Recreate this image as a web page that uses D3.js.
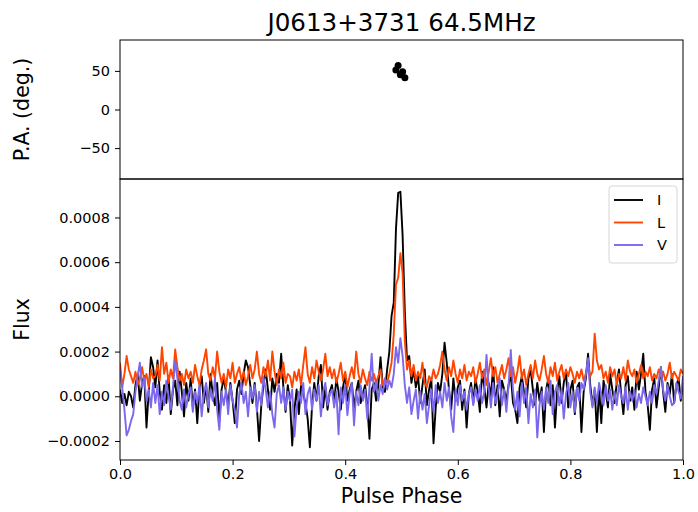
<!DOCTYPE html>
<html>
<head>
<meta charset="utf-8">
<script src="https://cdn.jsdelivr.net/npm/d3@7"></script>
<style>
  body { margin: 0; background: #fff; }
  svg { display: block; font-family: "DejaVu Sans", sans-serif; }
</style>
</head>
<body>
<svg id="chart" width="698" height="512"></svg>
<script>
// flux profiles in units of 1e-4, 256 phase bins
const fluxI = [
  0.3, -0.3, 0.1, -0.4, 0.2, 0.0, -0.5, 0.5, 1.0, -0.2, 0.6, 0.9, -1.4, 0.2, 1.75, 1.3,
  0.4, 1.6, 0.2, -0.6, 0.5, -0.3, 0.9, -0.8, 0.3, 0.7, -0.4, 1.1, 0.2, -0.9, 0.6, -0.2,
  0.8, -0.5, 0.3, -1.2, 0.4, 0.9, -0.3, 0.5, -0.7, 1.0, 0.1, -0.4, 0.6, -1.1, 0.3, 0.8,
  0.2, -0.4, 0.6, -0.2, -1.2, 0.3, 0.7, 0.1, 1.0, 1.6, 1.3, 0.5, -0.3, 0.6, -0.5, -2.0,
  -0.4, 0.5, 1.2, 0.3, -0.6, 0.8, 0.2, 1.0, 0.6, 1.9, 0.4, -0.7, 0.5, -0.2, -2.2, -0.6,
  0.3, -0.8, 0.5, 0.1, -0.3, -1.0, -2.28, -0.4, 0.6, -0.2, 0.9, 1.4, -0.5, 0.4, -0.6, 0.2,
  0.5, -0.3, 0.8, 0.2, -0.6, 0.4, 1.0, -0.2, 0.3, 0.6, -0.5, 0.2, 0.7, -0.3, 0.1, 0.5,
  -0.4, -1.9, 0.3, 0.6, -0.2, 0.5, 1.75, 0.4, 0.2, 1.2, 2.0, 3.6, 4.2, 7.5, 9.1, 9.15,
  7.2, 3.8, 1.6, 1.8, 0.6, 1.2, 0.4, 0.9, -0.3, 0.5, 1.2, -0.4, 0.3, 0.8, -2.1, -0.5,
  0.6, 0.2, 1.0, 2.4, 1.5, 0.3, -0.6, 0.8, -0.2, 0.4, 0.7, -0.6, 0.3, -1.4, 0.1, 0.6,
  -0.3, 0.8, 0.2, -0.7, 1.1, 0.4, -0.5, 0.6, 0.0, 1.3, -0.4, 0.5, -0.9, 0.7, 0.3, -0.2,
  0.5, 1.0, -0.3, -0.6, -1.2, 0.4, 0.9, 0.2, -0.5, 0.8, 1.2, 0.3, -0.4, 0.6, -0.2, 0.4,
  -1.6, 0.3, 0.8, -0.4, 0.5, -1.4, 0.2, 0.9, -0.3, 0.6, 1.1, -0.5, 0.3, 0.7, -0.8, 0.4,
  0.6, -1.6, 0.2, 0.8, 1.9, 0.5, -0.4, 0.3, -1.6, 0.4, -1.2, 0.7, 0.2, -0.5, 1.0, 0.3,
  -0.3, 0.6, 1.2, 0.1, -0.8, 0.5, 0.9, -0.2, 0.4, -0.6, 1.1, 0.3, 1.0, 1.9, 0.2, -0.4,
  -1.5, 0.3, 0.8, -0.5, 0.4, 1.3, 0.2, -0.7, 0.6, 0.1, 1.0, -0.3, 0.5, 0.8, -0.2, 0.6
];
const fluxL = [
  1.5, 0.4, 1.0, 1.8, 1.2, 0.9, 0.6, 1.1, 0.5, 0.8, 1.3, 0.7, 1.0, 0.4, 1.2, 0.8,
  0.9, 1.4, 0.7, 2.2, 1.0, 1.5, 0.6, 1.2, 0.8, 2.1, 1.3, 0.7, 1.0, 0.5, 1.2, 0.8,
  1.1, 0.6, 1.4, 0.9, 0.5, 1.2, 1.6, 2.1, 1.0, 0.7, 1.3, 0.8, 2.0, 1.1, 0.6, 1.0,
  0.4, 1.2, 0.8, 1.5, 0.6, 1.0, 1.3, 0.7, 1.1, 0.5, 0.9, 1.4, 0.8, 1.2, 2.0, 1.0,
  0.6, 1.3, 0.9, 1.6, 0.7, 2.0, 1.1, 0.5, 1.2, 0.8, 1.5, 0.6, 1.0, 0.9, 0.4, 1.1,
  0.7, 1.2, 0.5, 1.4, 2.2, 1.0, 0.6, 1.3, 0.8, 1.6, 1.1, 0.7, 1.2, 1.9, 0.9, 1.3,
  0.8, 1.2, 0.6, 1.0, 1.5, 0.7, 1.1, 0.4, 0.9, 1.3, 0.8, 2.0, 1.0, 0.6, 1.2, 0.8,
  0.5, 1.1, 0.7, 1.0, 0.6, 0.9, 1.2, 0.5, 0.8, 0.6, 1.0, 1.5, 2.8, 5.0, 5.3, 6.4,
  5.5, 2.5, 1.2, 1.6, 0.9, 1.4, 0.7, 1.1, 0.8, 1.5, 0.6, 0.4, 0.9, 0.7, 1.2, 0.8,
  1.0, 1.4, 2.0, 1.2, 0.7, 1.3, 0.9, 1.6, 1.0, 0.6, 1.2, 0.8, 1.4, 0.7, 1.1, 0.9,
  1.3, 0.6, 1.0, 1.5, 0.8, 1.2, 0.5, 1.1, 1.7, 0.9, 1.3, 0.6, 1.0, 1.4, 0.8, 1.2,
  1.7, 0.9, 1.3, 0.6, 1.1, 1.8, 0.8, 1.2, 0.5, 1.0, 1.4, 0.8, 1.6, 1.0, 0.7, 1.2,
  1.8, 1.0, 0.6, 1.3, 0.9, 1.5, 0.7, 1.1, 1.4, 0.8, 1.2, 0.9, 1.3, 1.0, 0.6, 1.1,
  0.8, 1.2, 0.7, 1.0, 1.4, 0.9, 1.1, 2.8, 1.6, 1.2, 1.4, 0.8, 1.1, 0.6, 1.3, 0.9,
  1.2, 0.5, 1.0, 0.8, 1.3, 0.7, 1.6, 1.1, 0.9, 1.2, 0.6, 1.0, 1.4, 0.8, 1.1, 0.9,
  1.3, 0.7, 1.0, 0.8, 1.2, 0.9, 1.1, 0.7, 1.0, 1.5, 0.8, 1.1, 0.9, 0.7, 1.2, 1.0
];
const fluxV = [
  1.2, 0.4, -0.6, -1.75, -1.5, -1.1, -0.8, 0.2, 0.9, 1.5, 0.4, 0.8, -0.2, 0.3, -0.5, 0.6,
  -0.3, 0.5, -0.8, 0.2, -0.4, 0.7, 0.0, -0.6, 0.4, 1.6, 0.8, -0.2, -0.6, 0.3, -0.5, 0.1,
  0.4, -0.7, 0.2, -0.3, 0.5, -0.9, 0.1, 0.6, -0.5, 0.3, -0.2, 0.8, -0.6, -1.5, 0.2, -0.4,
  0.3, -0.8, 0.5, -0.2, -0.6, -1.4, 0.1, 0.6, -0.3, 0.2, -0.9, 0.4, -0.1, 0.5, -0.7, 0.2,
  -0.4, 0.85, 0.3, -0.5, 0.2, -0.8, -1.4, 0.1, 0.5, -0.3, 0.4, -0.6, 0.2, -0.2, 0.3, -1.8,
  -0.5, 0.2, -0.3, 0.6, -0.8, 0.1, 0.4, -0.6, 0.3, -0.2, 0.5, -0.9, 0.2, 0.6, -0.4, 0.1,
  0.3, -0.5, 0.2, -1.7, 0.4, -0.3, 0.5, -0.85, 0.1, 0.6, -1.3, 0.2, -0.4, 0.5, -0.2, 0.3,
  -1.0, 0.4, 1.9, 0.2, 0.6, -0.2, 0.5, 0.1, 0.8, 0.3, 0.7, 0.4, 1.0, 2.2, 1.5, 2.6,
  1.8, 0.5, -0.3, 0.4, -0.8, -0.2, 0.3, -1.0, 0.2, -0.6, 0.1, -1.2, -0.4, 0.3, -0.7, 0.5,
  -0.3, 0.2, -0.5, 0.6, -0.2, 0.4, -0.9, -1.6, 0.3, -0.4, 0.5, -0.2, 0.2, -0.6, 0.1, 0.4,
  -0.4, 0.3, -0.2, 0.5, -0.3, 0.2, 1.85, 0.4, -0.5, 0.6, -0.3, 0.1, 0.8, -0.4, 0.3, -0.7,
  0.5, 2.07, 0.3, -0.6, 0.2, -0.9, 0.6, -0.3, 0.4, -1.2, 0.1, -0.5, 0.3, -1.84, -0.4, 0.2,
  -0.6, 0.4, -0.3, 0.7, -0.8, 0.2, 0.5, -0.4, 0.3, -1.0, 0.1, 0.6, -0.5, 0.2, -0.7, 0.4,
  -0.2, 0.6, 0.3, 1.0, 1.7, 0.2, -0.5, 0.4, -0.3, 0.6, 0.1, -0.4, 0.5, -0.2, 0.3, -0.6,
  0.2, -0.4, 0.5, 0.0, -0.3, 0.4, -0.6, 0.2, -0.2, 0.3, -0.5, 0.1, -0.3, 0.4, 0.0, -0.4,
  0.2, -0.3, 0.5, 0.1, 0.7, 1.3, 0.3, -0.2, 0.5, 0.0, -0.4, -0.3, 0.6, 0.2, -0.1, 0.9
];

// position angle points
const paPhase = [0.490, 0.494, 0.498, 0.502, 0.506];
const paDeg = [51, 57, 45, 49, 41];

const xTicks = [0, 0.2, 0.4, 0.6, 0.8, 1.0];
const paTicks = [-50, 0, 50];
const fluxTicks = [-0.0002, 0, 0.0002, 0.0004, 0.0006, 0.0008];

const series = [
  { name: "I", values: fluxI, color: "#000000" },
  { name: "L", values: fluxL, color: "#ff4500" },
  { name: "V", values: fluxV, color: "#7b68ee" }
];

const nBins = fluxI.length;
const phase = d3.range(nBins).map(i => i / (nBins - 1));

const left = 120, right = 683;
const paTop = 40, paBottom = 179;
const flTop = 179, flBottom = 460;

const svg = d3.select("#chart");
const minus = s => s.replace("-", "\u2212");

const x = d3.scaleLinear().domain([0, 1]).range([left, right]);
const yPA = d3.scaleLinear().domain([-90, 90]).range([paBottom, paTop]);

const allFlux = series.flatMap(s => s.values.map(v => v * 1e-4));
const [fMin, fMax] = d3.extent(allFlux);
const pad = (fMax - fMin) * 0.05;
const yF = d3.scaleLinear().domain([fMin - pad, fMax + pad]).range([flBottom, flTop]);

svg.append("defs").append("clipPath").attr("id", "clipF")
  .append("rect").attr("x", left).attr("y", flTop)
  .attr("width", right - left).attr("height", flBottom - flTop);

// title
svg.append("text")
  .attr("x", (left + right) / 2).attr("y", 31)
  .attr("text-anchor", "middle")
  .attr("font-size", 24.6)
  .text("J0613+3731 64.5MHz");

// --- top panel: P.A.
svg.append("g")
  .selectAll("circle")
  .data(paPhase)
  .join("circle")
  .attr("cx", d => x(d))
  .attr("cy", (d, i) => yPA(paDeg[i]))
  .attr("r", 3.5)
  .attr("fill", "#000");

const paAxis = svg.append("g")
  .attr("transform", `translate(${left},0)`)
  .call(d3.axisLeft(yPA).tickValues(paTicks).tickSize(5).tickPadding(5).tickFormat(d => minus(String(d))));

svg.append("text")
  .attr("transform", `translate(29,${(paTop + paBottom) / 2}) rotate(-90)`)
  .attr("text-anchor", "middle")
  .attr("font-size", 20.5)
  .text("P.A. (deg.)");

// --- bottom panel: flux
const line = d3.line()
  .x((d, i) => x(phase[i]))
  .y(d => yF(d * 1e-4));

svg.append("g")
  .attr("clip-path", "url(#clipF)")
  .selectAll("path")
  .data(series)
  .join("path")
  .attr("fill", "none")
  .attr("stroke", d => d.color)
  .attr("stroke-width", 1.9)
  .attr("stroke-linejoin", "round")
  .attr("d", d => line(d.values));

const fAxis = svg.append("g")
  .attr("transform", `translate(${left},0)`)
  .call(d3.axisLeft(yF).tickValues(fluxTicks).tickSize(5).tickPadding(5)
    .tickFormat(d => minus(Math.abs(d) < 1e-12 ? "0.0000" : d.toFixed(4))));

const xAxis = svg.append("g")
  .attr("transform", `translate(0,${flBottom})`)
  .call(d3.axisBottom(x).tickValues(xTicks).tickSize(5).tickPadding(4).tickFormat(d => d.toFixed(1)));

svg.append("text")
  .attr("transform", `translate(29,${(flTop + flBottom) / 2}) rotate(-90)`)
  .attr("text-anchor", "middle")
  .attr("font-size", 20.5)
  .text("Flux");

svg.append("text")
  .attr("x", (left + right) / 2).attr("y", 503)
  .attr("text-anchor", "middle")
  .attr("font-size", 20.5)
  .text("Pulse Phase");

[paAxis, fAxis, xAxis].forEach(g => {
  g.select(".domain").remove();
  g.selectAll("text").attr("font-size", 14.5).attr("fill", "#000").attr("font-family", "DejaVu Sans");
  g.selectAll("line").attr("stroke", "#000");
});

// frames
[[paTop, paBottom], [flTop, flBottom]].forEach(([t, b]) => {
  svg.append("rect")
    .attr("x", left).attr("y", t)
    .attr("width", right - left).attr("height", b - t)
    .attr("fill", "none").attr("stroke", "#000").attr("stroke-width", 1);
});

// legend
const lg = svg.append("g").attr("transform", "translate(609,186)");
lg.append("rect")
  .attr("width", 68).attr("height", 77).attr("rx", 3)
  .attr("fill", "#fff").attr("fill-opacity", 0.8)
  .attr("stroke", "#d6d6d6");
const items = lg.selectAll("g.item")
  .data(series)
  .join("g")
  .attr("class", "item")
  .attr("transform", (d, i) => `translate(0,${14 + i * 22.5})`);
items.append("line")
  .attr("x1", 5).attr("x2", 34)
  .attr("stroke", d => d.color).attr("stroke-width", 1.9);
items.append("text")
  .attr("x", 48).attr("y", 5)
  .attr("font-size", 14.5)
  .text(d => d.name);
</script>
</body>
</html>
